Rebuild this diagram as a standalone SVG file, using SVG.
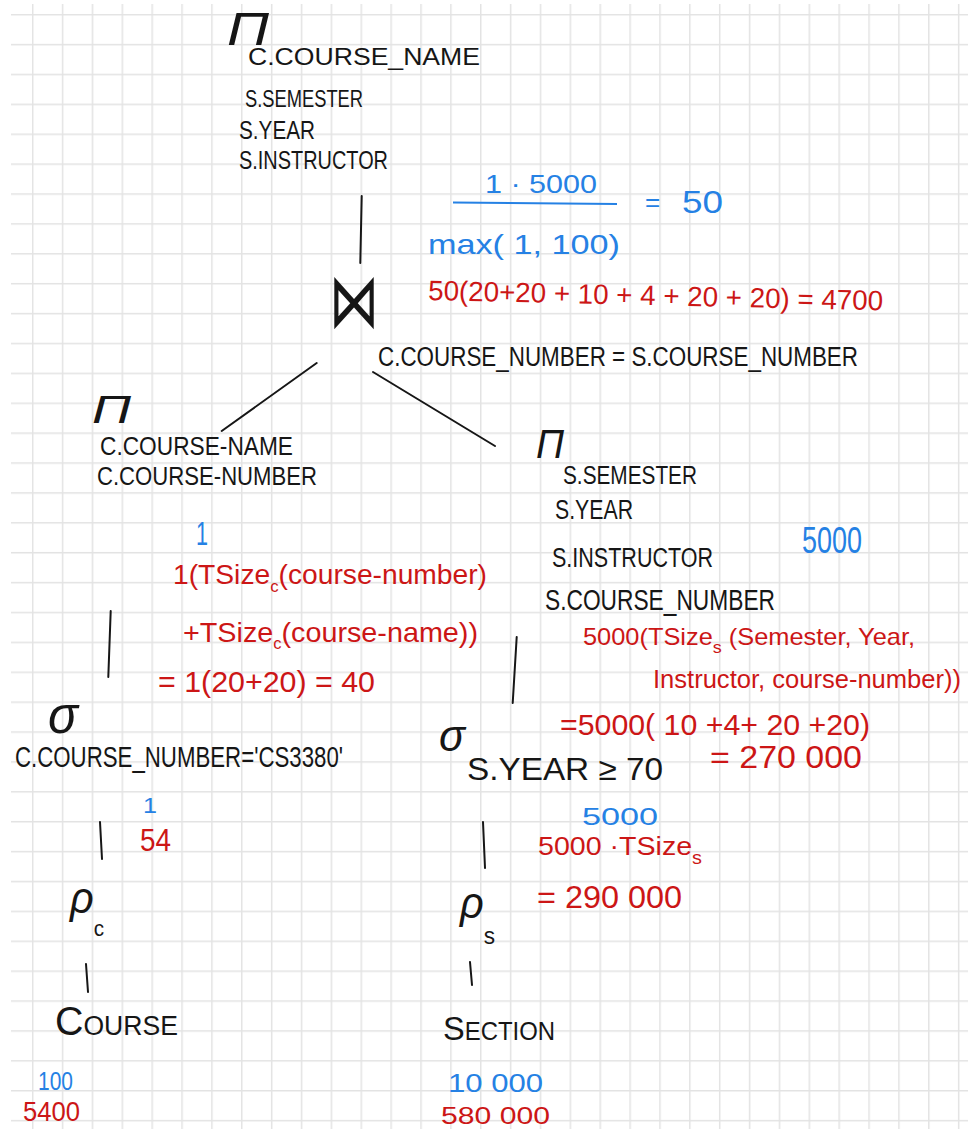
<svg xmlns="http://www.w3.org/2000/svg" width="973" height="1129" viewBox="0 0 973 1129">
  <style>
    text { font-family: "Liberation Sans", Arial, sans-serif; }
    .k { fill: #161616; }
    .b { fill: #2581e4; }
    .r { fill: #cc1616; }
    .gk { font-family: "Liberation Sans", "DejaVu Sans", sans-serif; font-style: italic; fill: #161616; }
    .edge { stroke: #161616; stroke-width: 2; stroke-linecap: round; fill: none; }
  </style>
  <defs>
    <pattern id="vgrid" x="31.95" y="0" width="29.87" height="1129" patternUnits="userSpaceOnUse">
      <rect x="0" y="0" width="1.5" height="1129" fill="#e3e3e3"/>
    </pattern>
    <pattern id="hgrid" x="0" y="13.95" width="973" height="29.89" patternUnits="userSpaceOnUse">
      <rect x="0" y="0" width="973" height="1.5" fill="#e3e3e3"/>
    </pattern>
  </defs>

  <!-- squared paper -->
  <rect x="0" y="0" width="973" height="1129" fill="#ffffff"/>
  <rect x="31.95" y="4" width="928" height="1125" fill="url(#vgrid)"/>
  <rect x="11" y="13.95" width="957" height="1108.5" fill="url(#hgrid)"/>

  <!-- tree edges -->
  <g id="connectors">
    <line class="edge" x1="361.7" y1="196" x2="360.3" y2="263"/>
    <line class="edge" x1="316.7" y1="363" x2="221.7" y2="431"/>
    <line class="edge" x1="373" y1="372" x2="495" y2="446"/>
    <line class="edge" x1="110.7" y1="611" x2="108.3" y2="677"/>
    <line class="edge" x1="516.7" y1="637" x2="512.7" y2="703"/>
    <line class="edge" x1="100" y1="822" x2="102" y2="859"/>
    <line class="edge" x1="483" y1="822" x2="485" y2="868"/>
    <line class="edge" x1="86" y1="964" x2="88" y2="992"/>
    <line class="edge" x1="470" y1="962" x2="472" y2="985"/>
  </g>

  <!-- final projection -->
  <g id="proj-top">
    <text class="gk" x="227" y="45" font-size="46" textLength="42" lengthAdjust="spacingAndGlyphs">Π</text>
    <text class="k" x="248" y="65" font-size="24" textLength="232" lengthAdjust="spacingAndGlyphs">C.COURSE_NAME</text>
    <text class="k" x="245" y="107" font-size="23" textLength="118" lengthAdjust="spacingAndGlyphs">S.SEMESTER</text>
    <text class="k" x="239" y="139" font-size="26" textLength="76" lengthAdjust="spacingAndGlyphs">S.YEAR</text>
    <text class="k" x="239" y="169" font-size="26" textLength="149" lengthAdjust="spacingAndGlyphs">S.INSTRUCTOR</text>
  </g>

  <!-- join -->
  <g id="join">
    <text class="k" x="329" y="327" font-size="76" font-family="DejaVu Sans, sans-serif" textLength="50" lengthAdjust="spacingAndGlyphs">⋈</text>
    <text class="k" x="378" y="366" font-size="27" textLength="480" lengthAdjust="spacingAndGlyphs">C.COURSE_NUMBER = S.COURSE_NUMBER</text>
    <text class="b" x="485" y="193" font-size="26" textLength="112" lengthAdjust="spacingAndGlyphs">1 · 5000</text>
    <line x1="453" y1="202.5" x2="617" y2="204" stroke="#2581e4" stroke-width="2"/>
    <text class="b" x="645" y="211" font-size="26">=</text>
    <text class="b" x="682" y="213" font-size="32" textLength="41" lengthAdjust="spacingAndGlyphs">50</text>
    <text class="b" x="428" y="254" font-size="28" textLength="192" lengthAdjust="spacingAndGlyphs">max( 1, 100)</text>
    <text class="r" x="428" y="300" font-size="28" textLength="455" lengthAdjust="spacingAndGlyphs" transform="rotate(1.3 428 300)">50(20+20 + 10 + 4 + 20 + 20) = 4700</text>
  </g>

  <!-- left projection -->
  <g id="proj-left">
    <text class="gk" x="92" y="423" font-size="39" textLength="39" lengthAdjust="spacingAndGlyphs">Π</text>
    <text class="k" x="100" y="455" font-size="26" textLength="193" lengthAdjust="spacingAndGlyphs">C.COURSE-NAME</text>
    <text class="k" x="97" y="485" font-size="26" textLength="220" lengthAdjust="spacingAndGlyphs">C.COURSE-NUMBER</text>
    <text class="b" x="196" y="545" font-size="34" textLength="12" lengthAdjust="spacingAndGlyphs">1</text>
    <text class="r" x="173" y="584" font-size="27" textLength="314" lengthAdjust="spacingAndGlyphs">1(TSize<tspan font-size="16" dy="8">c</tspan><tspan dy="-8">(course-number)</tspan></text>
    <text class="r" x="183" y="642" font-size="28" textLength="295" lengthAdjust="spacingAndGlyphs">+TSize<tspan font-size="16" dy="7">c</tspan><tspan dy="-7">(course-name))</tspan></text>
    <text class="r" x="158" y="692" font-size="30" textLength="217" lengthAdjust="spacingAndGlyphs">= 1(20+20) = 40</text>
  </g>

  <!-- right projection -->
  <g id="proj-right">
    <text class="gk" x="536" y="458" font-size="40" textLength="28" lengthAdjust="spacingAndGlyphs">Π</text>
    <text class="k" x="563" y="484" font-size="25" textLength="134" lengthAdjust="spacingAndGlyphs">S.SEMESTER</text>
    <text class="k" x="555" y="519" font-size="27" textLength="78" lengthAdjust="spacingAndGlyphs">S.YEAR</text>
    <text class="k" x="552" y="567" font-size="27" textLength="161" lengthAdjust="spacingAndGlyphs">S.INSTRUCTOR</text>
    <text class="k" x="545" y="610" font-size="29" textLength="230" lengthAdjust="spacingAndGlyphs">S.COURSE_NUMBER</text>
    <text class="b" x="802" y="553" font-size="36" textLength="60" lengthAdjust="spacingAndGlyphs">5000</text>
    <text class="r" x="583" y="645" font-size="24" textLength="332" lengthAdjust="spacingAndGlyphs">5000(TSize<tspan font-size="17" dy="8">s</tspan><tspan dy="-8"> (Semester, Year,</tspan></text>
    <text class="r" x="653" y="688" font-size="25" textLength="308" lengthAdjust="spacingAndGlyphs">Instructor, course-number))</text>
    <text class="r" x="560" y="735" font-size="30" textLength="310" lengthAdjust="spacingAndGlyphs">=5000( 10 +4+ 20 +20)</text>
    <text class="r" x="710" y="768" font-size="32" textLength="152" lengthAdjust="spacingAndGlyphs">= 270 000</text>
  </g>

  <!-- left selection -->
  <g id="select-left">
    <text class="gk" x="48" y="733" font-size="52" font-style="normal" textLength="30" lengthAdjust="spacingAndGlyphs">σ</text>
    <text class="k" x="15" y="767" font-size="29" textLength="328" lengthAdjust="spacingAndGlyphs">C.COURSE_NUMBER='CS3380'</text>
    <text class="b" x="143" y="813" font-size="22" textLength="14" lengthAdjust="spacingAndGlyphs">1</text>
    <text class="r" x="140" y="851" font-size="32" textLength="31" lengthAdjust="spacingAndGlyphs">54</text>
  </g>

  <!-- right selection -->
  <g id="select-right">
    <text class="gk" x="439" y="751" font-size="44" font-style="normal" textLength="26" lengthAdjust="spacingAndGlyphs">σ</text>
    <text class="k" x="467" y="780" font-size="32" textLength="196" lengthAdjust="spacingAndGlyphs">S.YEAR ≥ 70</text>
    <text class="b" x="582" y="825" font-size="24" textLength="76" lengthAdjust="spacingAndGlyphs">5000</text>
    <text class="r" x="538" y="855" font-size="26" textLength="164" lengthAdjust="spacingAndGlyphs">5000 ·TSize<tspan font-size="18" dy="9">s</tspan></text>
    <text class="r" x="537" y="908" font-size="32" textLength="145" lengthAdjust="spacingAndGlyphs">= 290 000</text>
  </g>

  <!-- renames -->
  <g id="rename-c">
    <text class="gk" x="70" y="913" font-size="44" font-style="normal" textLength="34" lengthAdjust="spacingAndGlyphs">ρ<tspan font-size="22" font-style="normal" dy="23">c</tspan></text>
  </g>
  <g id="rename-s">
    <text class="gk" x="460" y="918" font-size="44" font-style="normal" textLength="35" lengthAdjust="spacingAndGlyphs">ρ<tspan font-size="24" font-style="normal" dy="26">s</tspan></text>
  </g>

  <!-- base relations -->
  <g id="course">
    <text class="k" x="55" y="1035" textLength="123" lengthAdjust="spacingAndGlyphs"><tspan font-size="40">C</tspan><tspan font-size="27">OURSE</tspan></text>
    <text class="b" x="38" y="1090" font-size="26" textLength="35" lengthAdjust="spacingAndGlyphs">100</text>
    <text class="r" x="23" y="1121" font-size="28" textLength="57" lengthAdjust="spacingAndGlyphs">5400</text>
  </g>
  <g id="section">
    <text class="k" x="443" y="1040" textLength="112" lengthAdjust="spacingAndGlyphs"><tspan font-size="34">S</tspan><tspan font-size="25">ECTION</tspan></text>
    <text class="b" x="448" y="1092" font-size="26" textLength="95" lengthAdjust="spacingAndGlyphs">10 000</text>
    <text class="r" x="441" y="1124" font-size="24" textLength="109" lengthAdjust="spacingAndGlyphs">580 000</text>
  </g>
</svg>
